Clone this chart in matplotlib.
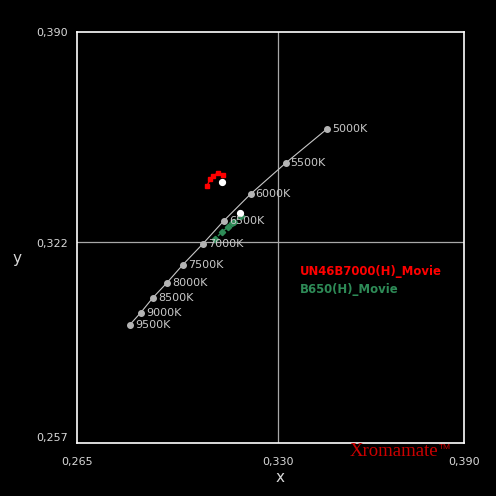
import matplotlib
matplotlib.use("Agg")
import matplotlib.pyplot as plt

# Data
cct_labels = ["5000K", "5500K", "6000K", "6500K", "7000K", "7500K", "8000K", "8500K", "9000K", "9500K"]
cct_x = [0.3457, 0.3324, 0.3211, 0.3124, 0.3057, 0.2992, 0.2941, 0.2895, 0.2856, 0.2821]
cct_y = [0.3586, 0.3476, 0.3376, 0.3289, 0.3215, 0.3147, 0.3089, 0.3040, 0.2992, 0.2953]

red_x = [0.3070, 0.3080, 0.3089, 0.3105, 0.3122]
red_y = [0.3402, 0.3424, 0.3434, 0.3444, 0.3437]
red_target = (0.3118, 0.3415)

green_x = [0.3096, 0.3118, 0.3138, 0.3151, 0.3157, 0.3180]
green_y = [0.3230, 0.3253, 0.3269, 0.3282, 0.3285, 0.3305]
green_target = (0.3176, 0.3314)

series_names = ["UN46B7000(H)_Movie", "B650(H)_Movie"]
series_colors = ["#ff0000", "#2e8b57"]

xlim = (0.265, 0.390)
ylim = (0.257, 0.390)
x_ticks = [0.265, 0.330, 0.390]
y_ticks = [0.257, 0.322, 0.390]

fig = plt.figure(figsize=(4.96, 4.96), dpi=100, facecolor="black")
ax = fig.add_axes([77/496, 1-443/496, 387/496, 411/496])
ax.set_facecolor("black")
ax.set_xlim(*xlim)
ax.set_ylim(*ylim)
for s in ax.spines.values():
    s.set_color("white")
    s.set_linewidth(1.2)
ax.set_xticks([])
ax.set_yticks([])

# grid lines
ax.axvline(x_ticks[1], color="#a8a8a8", lw=0.9)
ax.axhline(y_ticks[1], color="#a8a8a8", lw=0.9)

tick_color = "#d8d8d8"
# tick labels
for xv in x_ticks:
    ax.annotate(f"{xv:.3f}".replace(".", ","), xy=(xv, ylim[0]), xycoords="data",
                xytext=(0, -19), textcoords="offset pixels", ha="center", va="center",
                color=tick_color, fontsize=8, annotation_clip=False)
yoffs = [(-5, 'bottom'), (-2, 'center'), (-1, 'center')]
for (dy, va), yv in zip(yoffs, y_ticks):
    ax.annotate(f"{yv:.3f}".replace(".", ","), xy=(xlim[0], yv), xycoords="data",
                xytext=(-9, dy if va == 'center' else 0), textcoords="offset pixels", ha="right", va=va,
                color=tick_color, fontsize=8, annotation_clip=False)

fig.text(280/496, 1-478/496, "x", color=tick_color, fontsize=11, ha="center", va="center")
fig.text(17/496, 1-258/496, "y", color=tick_color, fontsize=11, ha="center", va="center")

# CCT line
ax.plot(cct_x, cct_y, color="#c8c8c8", lw=0.8, marker="o", ms=4, mfc="#b4b4b4", mec="#b4b4b4")
for lx, ly, lab in zip(cct_x, cct_y, cct_labels):
    ax.annotate(lab, xy=(lx, ly), xytext=(5, 0), textcoords="offset pixels",
                ha="left", va="center", color="#c8c8c8", fontsize=8)

# red series
ax.plot(red_x, red_y, color=series_colors[0], lw=1, marker="s", ms=3.2)
ax.plot([red_target[0]], [red_target[1]], marker="o", ms=4.2, color="white", ls="none")

# green series
ax.plot(green_x, green_y, color=series_colors[1], lw=1, ls=(0, (2, 1)), marker="D", ms=3.2)
ax.plot([green_target[0]], [green_target[1]], marker="o", ms=4.2, color="white", ls="none")

# legend text
fig.text(300/496, 1-272/496, series_names[0], color=series_colors[0], fontsize=8.4,
         fontweight="bold", ha="left", va="center")
fig.text(300/496, 1-290/496, series_names[1], color=series_colors[1], fontsize=8.4,
         fontweight="bold", ha="left", va="center")

# logo
logo = fig.text(350/496, 1-452/496, "Xromamate", color="#cc0000", fontsize=13.5,
                family="Liberation Serif", ha="left", va="center")
fig.canvas.draw()
bb = logo.get_window_extent()
fig.text((bb.x1 + 0.5)/496, (bb.y1 - 4)/496, "TM", color="#cc0000", fontsize=6,
         family="Liberation Sans", ha="left", va="center")

fig.savefig("out.png", dpi=100, facecolor="black")
